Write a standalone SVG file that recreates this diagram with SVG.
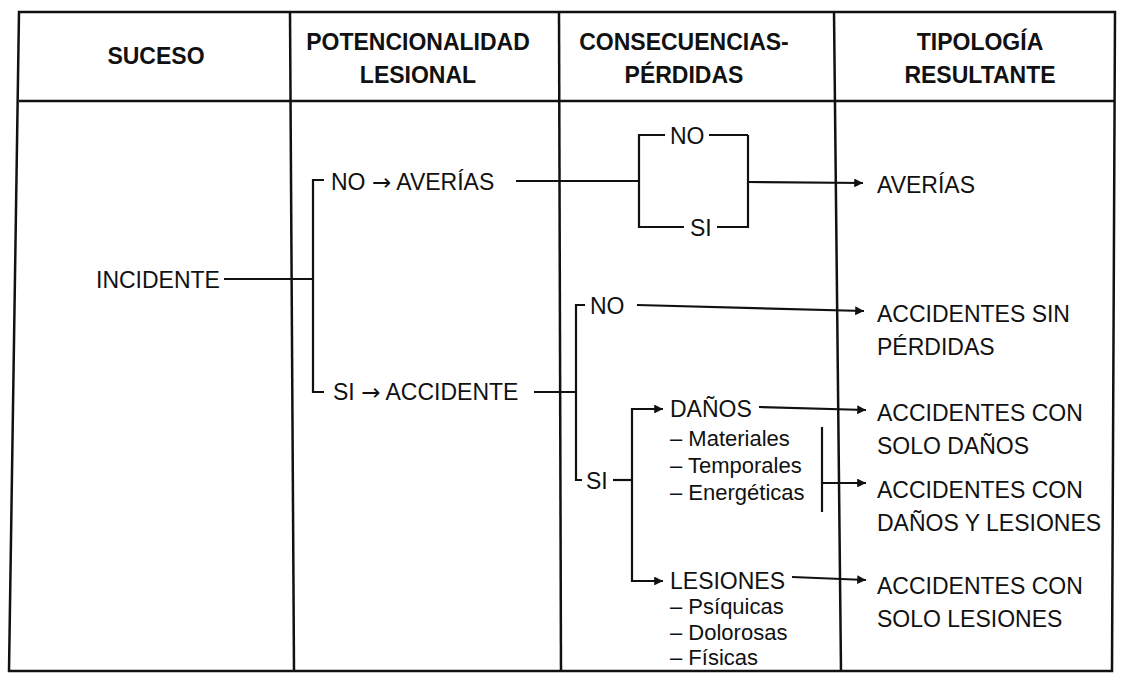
<svg xmlns="http://www.w3.org/2000/svg" width="1121" height="675" viewBox="0 0 1121 675">
<defs>
<style>
.frame{stroke:#111;stroke-width:2.5;fill:none}
.ln{stroke:#111;stroke-width:2.2;fill:none}
.hd{font-family:"Liberation Sans",Arial,sans-serif;font-weight:bold;font-size:23px;fill:#111;text-anchor:middle}
.tx{font-family:"Liberation Sans",Arial,sans-serif;font-size:23px;fill:#111}
.sm{font-family:"Liberation Sans",Arial,sans-serif;font-size:22px;fill:#111}
.ar{font-family:"DejaVu Sans",sans-serif;font-size:23px}
</style>
<marker id="ah" viewBox="0 0 10 10" refX="10" refY="5" markerWidth="8.5" markerHeight="4" markerUnits="strokeWidth" orient="auto">
<path d="M0,0 L10,5 L0,10 z" fill="#111"/>
</marker>
</defs>
<rect width="1121" height="675" fill="#fff"/>
<g id="table">
<path class="frame" d="M19,12 L1115,12 L1112,671 L9,671 Z"/>
<line class="frame" x1="19" y1="101" x2="1115" y2="101"/>
<line class="frame" x1="290" y1="12" x2="294" y2="671"/>
<line class="frame" x1="559" y1="12" x2="561" y2="671"/>
<line class="frame" x1="834" y1="12" x2="841" y2="671"/>
</g>
<g id="headers">
<text class="hd" x="156" y="64">SUCESO</text>
<text class="hd" x="418" y="50">POTENCIONALIDAD</text>
<text class="hd" x="418" y="83">LESIONAL</text>
<text class="hd" x="684" y="50">CONSECUENCIAS-</text>
<text class="hd" x="684" y="83">PÉRDIDAS</text>
<text class="hd" x="980" y="50">TIPOLOGÍA</text>
<text class="hd" x="980" y="83">RESULTANTE</text>
</g>
<g id="connectors">
<line class="ln" x1="224" y1="279" x2="313" y2="279"/>
<polyline class="ln" points="324,180 313,180 313,392 324,392"/>
<line class="ln" x1="516" y1="181" x2="639" y2="181"/>
<polyline class="ln" points="665,135 639,135 639,227 684,227"/>
<line class="ln" x1="709" y1="135" x2="748" y2="135"/>
<polyline class="ln" points="717,227 748,227 748,135"/>
<line class="ln" x1="748" y1="182" x2="863" y2="183" marker-end="url(#ah)"/>
<line class="ln" x1="534" y1="392" x2="576" y2="392"/>
<polyline class="ln" points="585,305 576,305 576,480 582,480"/>
<line class="ln" x1="637" y1="305" x2="864" y2="311" marker-end="url(#ah)"/>
<line class="ln" x1="613" y1="480" x2="632" y2="480"/>
<polyline class="ln" points="632,480 632,409 663,409" marker-end="url(#ah)"/>
<polyline class="ln" points="632,480 632,581 663,581" marker-end="url(#ah)"/>
<line class="ln" x1="759" y1="407" x2="866" y2="410" marker-end="url(#ah)"/>
<line class="ln" x1="822" y1="427" x2="822" y2="512"/>
<line class="ln" x1="822" y1="483" x2="866" y2="483" marker-end="url(#ah)"/>
<line class="ln" x1="792" y1="577" x2="866" y2="580" marker-end="url(#ah)"/>
</g>
<g id="n-incidente"><text class="tx" x="96" y="288">INCIDENTE</text></g>
<g id="n-no-averias"><text class="tx" x="331" y="190">NO <tspan class="ar">→</tspan> AVERÍAS</text></g>
<g id="n-si-accidente"><text class="tx" x="333" y="400">SI <tspan class="ar">→</tspan> ACCIDENTE</text></g>
<g id="n-box-no"><text class="tx" x="670" y="144">NO</text></g>
<g id="n-box-si"><text class="tx" x="690" y="236">SI</text></g>
<g id="n-no"><text class="tx" x="590" y="314">NO</text></g>
<g id="n-si"><text class="tx" x="586" y="489">SI</text></g>
<g id="n-danos">
<text class="tx" x="670" y="417">DAÑOS</text>
<text class="sm" x="670" y="446">– Materiales</text>
<text class="sm" x="670" y="473">– Temporales</text>
<text class="sm" x="670" y="500">– Energéticas</text>
</g>
<g id="n-lesiones">
<text class="tx" x="670" y="589">LESIONES</text>
<text class="sm" x="670" y="614">– Psíquicas</text>
<text class="sm" x="670" y="640">– Dolorosas</text>
<text class="sm" x="670" y="665">– Físicas</text>
</g>
<g id="n-r-averias"><text class="tx" x="877" y="193">AVERÍAS</text></g>
<g id="n-r-sin"><text class="tx" x="877" y="322">ACCIDENTES SIN</text><text class="tx" x="877" y="355">PÉRDIDAS</text></g>
<g id="n-r-danos"><text class="tx" x="877" y="421">ACCIDENTES CON</text><text class="tx" x="877" y="454">SOLO DAÑOS</text></g>
<g id="n-r-ambos"><text class="tx" x="877" y="498">ACCIDENTES CON</text><text class="tx" x="877" y="531">DAÑOS Y LESIONES</text></g>
<g id="n-r-lesiones"><text class="tx" x="877" y="594">ACCIDENTES CON</text><text class="tx" x="877" y="627">SOLO LESIONES</text></g>
</svg>
